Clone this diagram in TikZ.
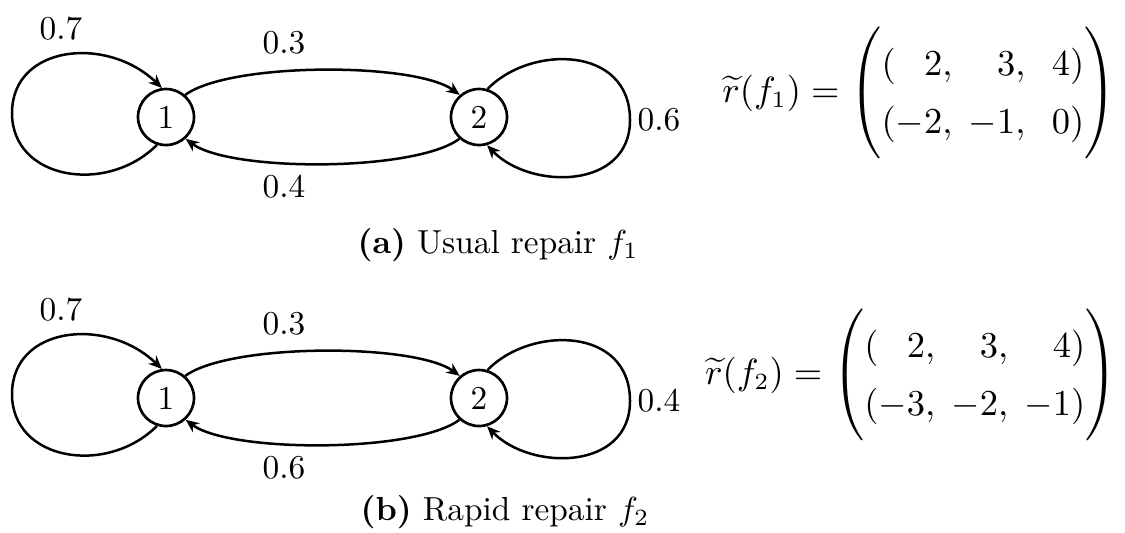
\documentclass[tikz,border=0pt]{standalone}
\usepackage{amsmath}
\usetikzlibrary{arrows.meta}
\begin{document}
\begin{tikzpicture}[x=0.3pt,y=-0.3pt,
  state/.style={circle,draw,line width=0.8pt,minimum size=16.8pt,inner sep=0pt},
  edge/.style={line width=0.75pt,-{Stealth[length=4pt,width=3.4pt]}},
  lbl/.style={inner sep=0pt},
  eqn/.style={anchor=east,inner sep=0pt,font=\fontsize{10.5}{12.4}\selectfont},
  captxt/.style={anchor=base west,inner sep=0pt}]
\useasboundingbox (0,0) rectangle (1125,532);
% ---------- (a) ----------
\node[state] (a1) at (166,117) {1};
\node[state] (a2) at (479,117) {2};
\coordinate (aL) at (12,113);
\coordinate (aR) at (630,120);
\draw[edge] (a1.252) .. controls (107,195) and (12,180) .. (aL)
            .. controls (12,45) and (107,35) .. (a1.98);
\draw[edge] (a2.73) .. controls (530,45) and (630,45) .. (aR)
            .. controls (630,190) and (530,190) .. (a2.286);
\draw[edge] (a1.49) .. controls (230,62) and (415,62) .. (a2.131);
\draw[edge] (a2.228) .. controls (415,172) and (230,172) .. (a1.312);
\node[lbl] (a07) at (61,29) {0.7};
\node[lbl] (a03) at (284,43) {0.3};
\node[lbl] (a04) at (284,187) {0.4};
\node[lbl] (a06) at (659,120) {0.6};
\node[eqn] (ra) at (1117,93) {\renewcommand{\arraystretch}{1.4}\delimitershortfall=0pt$\widetilde{r}(f_1) = \begin{pmatrix} (\phantom{-}2,\; \phantom{-}3,\;\; 4) \\ (-2,\; -1,\;\; 0)\end{pmatrix}$};
\node[captxt] (capa) at (357,253) {\textbf{(a)} Usual repair $f_1$};
% ---------- (b) ----------
\node[state] (b1) at (166,398) {1};
\node[state] (b2) at (479,398) {2};
\coordinate (bL) at (12,394);
\coordinate (bR) at (630,401);
\draw[edge] (b1.252) .. controls (107,476) and (12,461) .. (bL)
            .. controls (12,326) and (107,316) .. (b1.98);
\draw[edge] (b2.73) .. controls (530,326) and (630,326) .. (bR)
            .. controls (630,471) and (530,471) .. (b2.286);
\draw[edge] (b1.49) .. controls (230,343) and (415,343) .. (b2.131);
\draw[edge] (b2.228) .. controls (415,453) and (230,453) .. (b1.312);
\node[lbl] (b07) at (61,310) {0.7};
\node[lbl] (b03) at (284,324) {0.3};
\node[lbl] (b06) at (284,468) {0.6};
\node[lbl] (b04) at (659,401) {0.4};
\node[eqn] (rb) at (1118,375) {\renewcommand{\arraystretch}{1.4}\delimitershortfall=0pt$\widetilde{r}(f_2) = \begin{pmatrix} (\phantom{-}2,\; \phantom{-}3,\; \phantom{-}4) \\ (-3,\; -2,\; -1)\end{pmatrix}$};
\node[captxt] (capb) at (360,520) {\textbf{(b)} Rapid repair $f_2$};
\end{tikzpicture}
\end{document}
